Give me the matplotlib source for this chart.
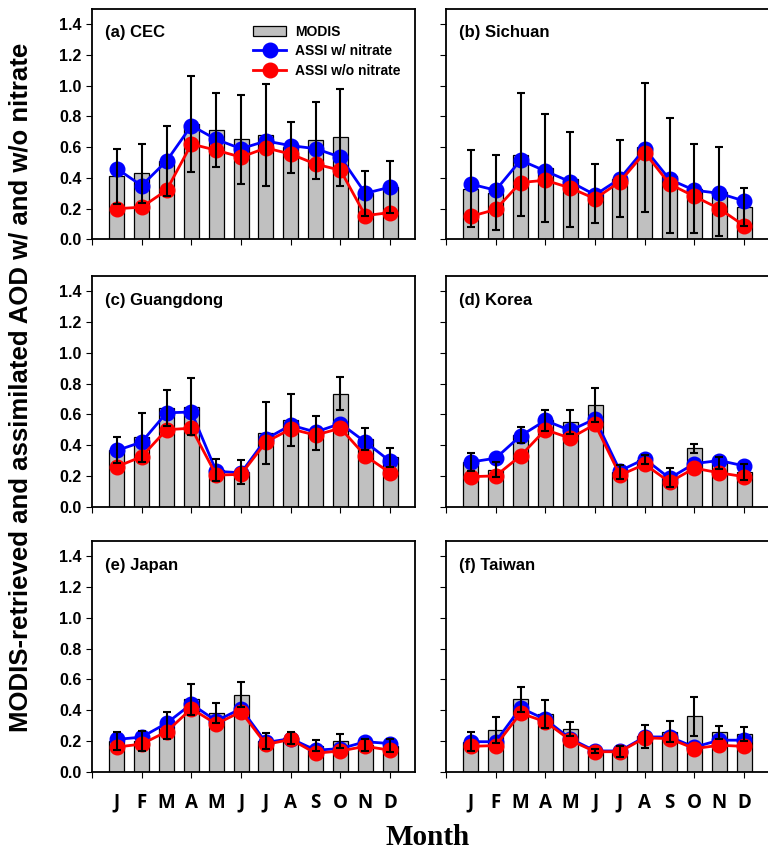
"""
Monthly AOD: MODIS-retrieved vs assimilated (with / without nitrate)
Six regions, 3x2 panels
"""

import matplotlib.pyplot as plt
import numpy as np
from matplotlib.patches import Patch
from matplotlib.lines import Line2D

months = ["J", "F", "M", "A", "M", "J", "J", "A", "S", "O", "N", "D"]
panel_titles = ["(a) CEC", "(b) Sichuan", "(c) Guangdong", "(d) Korea", "(e) Japan", "(f) Taiwan"]

# MODIS monthly mean AOD (bars) and standard deviation (error bars)
modis_cec = [0.41, 0.43, 0.51, 0.75, 0.71, 0.65, 0.68, 0.60, 0.645, 0.665, 0.30, 0.34]
modis_cec_sd = [0.18, 0.19, 0.225, 0.31, 0.24, 0.29, 0.33, 0.165, 0.25, 0.315, 0.145, 0.17]
modis_sichuan = [0.33, 0.305, 0.55, 0.465, 0.39, 0.30, 0.395, 0.60, 0.415, 0.33, 0.31, 0.21]
modis_sichuan_sd = [0.25, 0.245, 0.40, 0.35, 0.31, 0.19, 0.25, 0.42, 0.375, 0.29, 0.29, 0.125]
modis_guangdong = [0.37, 0.45, 0.64, 0.65, 0.24, 0.225, 0.48, 0.565, 0.48, 0.735, 0.44, 0.32]
modis_guangdong_sd = [0.085, 0.16, 0.115, 0.185, 0.07, 0.08, 0.20, 0.17, 0.11, 0.105, 0.07, 0.06]
modis_korea = [0.29, 0.24, 0.465, 0.56, 0.55, 0.66, 0.225, 0.305, 0.19, 0.38, 0.285, 0.225]
modis_korea_sd = [0.06, 0.05, 0.05, 0.07, 0.08, 0.11, 0.045, 0.03, 0.06, 0.03, 0.04, 0.05]
modis_japan = [0.20, 0.20, 0.30, 0.47, 0.38, 0.50, 0.20, 0.22, 0.17, 0.20, 0.175, 0.17]
modis_japan_sd = [0.057, 0.065, 0.085, 0.10, 0.065, 0.08, 0.05, 0.04, 0.035, 0.045, 0.04, 0.045]
modis_taiwan = [0.195, 0.27, 0.47, 0.375, 0.275, 0.135, 0.13, 0.23, 0.26, 0.36, 0.255, 0.245]
modis_taiwan_sd = [0.06, 0.085, 0.08, 0.09, 0.045, 0.014, 0.035, 0.075, 0.07, 0.125, 0.045, 0.045]

# Assimilated AOD with nitrate
assi_no3_cec = [0.46, 0.35, 0.51, 0.74, 0.65, 0.59, 0.64, 0.61, 0.59, 0.535, 0.30, 0.34]
assi_no3_sichuan = [0.36, 0.32, 0.515, 0.445, 0.375, 0.29, 0.395, 0.59, 0.39, 0.32, 0.30, 0.25]
assi_no3_guangdong = [0.365, 0.42, 0.61, 0.615, 0.23, 0.22, 0.44, 0.53, 0.485, 0.54, 0.42, 0.295]
assi_no3_korea = [0.29, 0.315, 0.46, 0.56, 0.495, 0.57, 0.233, 0.31, 0.185, 0.28, 0.30, 0.265]
assi_no3_japan = [0.21, 0.225, 0.315, 0.44, 0.33, 0.41, 0.19, 0.215, 0.14, 0.15, 0.195, 0.183]
assi_no3_taiwan = [0.195, 0.195, 0.415, 0.34, 0.215, 0.135, 0.135, 0.226, 0.226, 0.16, 0.205, 0.205]

# Assimilated AOD without nitrate
assi_cec = [0.20, 0.21, 0.32, 0.62, 0.58, 0.535, 0.595, 0.555, 0.49, 0.45, 0.155, 0.175]
assi_sichuan = [0.15, 0.195, 0.37, 0.385, 0.335, 0.265, 0.375, 0.565, 0.36, 0.28, 0.20, 0.09]
assi_guangdong = [0.26, 0.325, 0.50, 0.51, 0.205, 0.21, 0.42, 0.505, 0.465, 0.51, 0.33, 0.22]
assi_korea = [0.195, 0.20, 0.33, 0.50, 0.445, 0.535, 0.205, 0.275, 0.16, 0.25, 0.22, 0.195]
assi_japan = [0.16, 0.18, 0.26, 0.41, 0.31, 0.39, 0.177, 0.21, 0.12, 0.135, 0.165, 0.14]
assi_taiwan = [0.165, 0.17, 0.38, 0.325, 0.205, 0.13, 0.13, 0.22, 0.215, 0.15, 0.172, 0.165]

modis = [modis_cec, modis_sichuan, modis_guangdong, modis_korea, modis_japan, modis_taiwan]
modis_sd = [modis_cec_sd, modis_sichuan_sd, modis_guangdong_sd, modis_korea_sd,
            modis_japan_sd, modis_taiwan_sd]
assi_no3 = [assi_no3_cec, assi_no3_sichuan, assi_no3_guangdong, assi_no3_korea,
            assi_no3_japan, assi_no3_taiwan]
assi = [assi_cec, assi_sichuan, assi_guangdong, assi_korea, assi_japan, assi_taiwan]

plt.rcParams["font.family"] = ["Liberation Sans", "DejaVu Sans"]

fig = plt.figure(figsize=(7.68, 8.55), dpi=100)

# panel positions (left, bottom) in figure fraction
lefts = [0.1198, 0.5807]
bottoms = [0.7199, 0.4074, 0.0974]
width, height = 0.4206, 0.270

x = np.arange(1, 13)
for i in range(6):
    row, col = divmod(i, 2)
    ax = fig.add_axes([lefts[col], bottoms[row], width, height])

    ax.bar(x, modis[i], width=0.6, color="#c0c0c0", edgecolor="black", linewidth=0.9, zorder=2)
    ax.plot(x, assi_no3[i], "-o", color="#0000ff", lw=2, markersize=10.5, zorder=3)
    ax.plot(x, assi[i], "-o", color="#ff0000", lw=2, markersize=10.5, zorder=4)
    ax.errorbar(x, modis[i], yerr=modis_sd[i], fmt="none", ecolor="black",
                elinewidth=1.5, capsize=3, capthick=1.5, zorder=5)

    ax.set_xlim(0, 13)
    ax.set_ylim(0, 1.5)
    ax.set_yticks(np.arange(0, 1.41, 0.2))
    ax.set_xticks(np.arange(0, 13, 2))
    ax.set_xticklabels([])
    ax.tick_params(axis="both", which="major", direction="out", length=4, width=0.8)
    if col == 0:
        ax.set_yticklabels([f"{v:.1f}" for v in np.arange(0, 1.41, 0.2)],
                           fontsize=11.5, fontweight="bold")
    else:
        ax.set_yticklabels([])

    # month letters only under the bottom row
    if row == 2:
        for xm, m in zip(x, months):
            ax.text(xm, -0.135, m, transform=ax.get_xaxis_transform(), fontsize=13.5,
                    fontweight="bold", family=["Open Sans", "DejaVu Sans"],
                    ha="center", va="center")

    for spine in ax.spines.values():
        spine.set_linewidth(1.3)

    ax.text(0.04, 0.895, panel_titles[i], transform=ax.transAxes, fontsize=12,
            fontweight="bold", va="center", ha="left")

    if i == 0:
        handles = [
            Patch(facecolor="#c0c0c0", edgecolor="black", linewidth=0.9),
            Line2D([], [], color="#0000ff", lw=2, marker="o", markersize=10.5),
            Line2D([], [], color="#ff0000", lw=2, marker="o", markersize=10.5),
        ]
        ax.legend(handles, ["MODIS", "ASSI w/ nitrate", "ASSI w/o nitrate"],
                  loc="upper left", bbox_to_anchor=(0.46, 0.985), frameon=False,
                  prop={"size": 10, "weight": "bold"}, handlelength=2.4,
                  handletextpad=0.6, labelspacing=0.4)

fig.text(0.027, 0.547, "MODIS-retrieved and assimilated AOD w/ and w/o nitrate",
         rotation=90, fontsize=18.5, fontweight="bold", ha="center", va="center")
fig.text(0.557, 0.02, "Month", fontsize=21, fontweight="bold",
         family=["Liberation Serif", "DejaVu Serif"], ha="center", va="center")

plt.savefig("out.png", dpi=100)
